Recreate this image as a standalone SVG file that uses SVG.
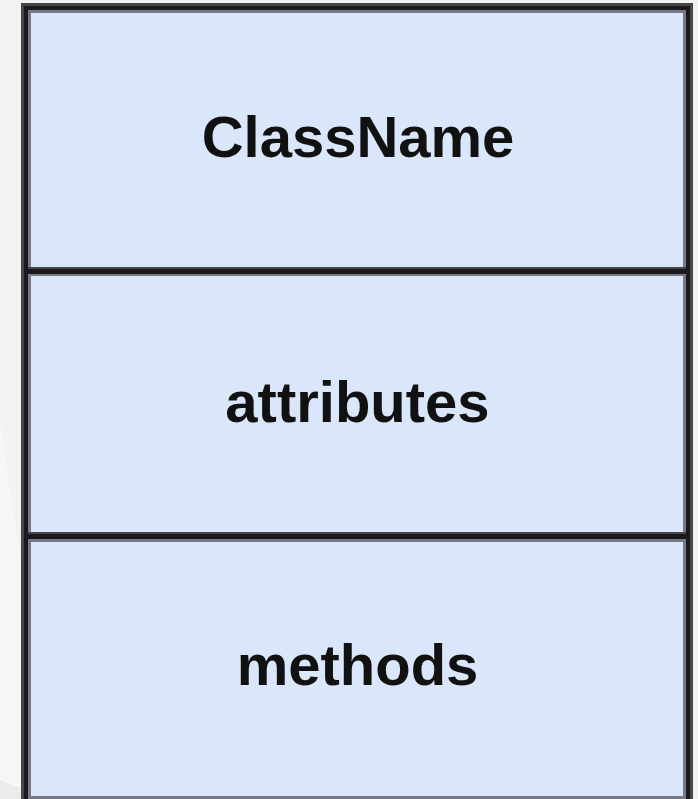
<svg xmlns="http://www.w3.org/2000/svg" width="698" height="799" viewBox="0 0 698 799">
  <style>
    .lbl { font-family: "Liberation Sans", Arial, sans-serif; font-size: 58px; font-weight: bold; fill: #111111; text-anchor: middle; }
    .fill { fill: #dae7fa; }
    .b1 { fill: #46454a; }
    .b2 { fill: #1c181c; }
    .b3 { fill: #767988; }
  </style>
  <rect x="0" y="0" width="698" height="799" fill="#f3f3f3"/>
  <path d="M0 420 Q 14 520 21 560 L21 788 L0 780 Z" fill="#f7f7f7"/>
  <path d="M0 780 L21 788 L21 799 L0 799 Z" fill="#ececec"/>
  <rect x="693" y="0" width="5" height="799" fill="#f0f0f0"/>
  <g id="class-box">
    <rect class="b1" x="21" y="3" width="672" height="800"/>
    <rect class="b2" x="24" y="6" width="666" height="800"/>
    <rect class="b3" x="28" y="10" width="658" height="800"/>
    <g id="section-name">
      <rect class="fill" x="31" y="13" width="652" height="254"/>
      <text class="lbl" x="358" y="157">ClassName</text>
    </g>
    <g id="divider-1">
      <rect class="b1" x="28" y="267" width="658" height="2"/>
      <rect class="b2" x="24" y="269" width="666" height="5"/>
      <rect class="b3" x="31" y="274" width="652" height="2"/>
    </g>
    <g id="section-attributes">
      <rect class="fill" x="31" y="276" width="652" height="256"/>
      <text class="lbl" x="357.5" y="422">attributes</text>
    </g>
    <g id="divider-2">
      <rect class="b1" x="28" y="532" width="658" height="2"/>
      <rect class="b2" x="24" y="534" width="666" height="5"/>
      <rect class="b3" x="31" y="539" width="652" height="3"/>
    </g>
    <g id="section-methods">
      <rect class="fill" x="31" y="542" width="652" height="254"/>
      <text class="lbl" x="357.5" y="685">methods</text>
    </g>
    <rect class="b3" x="31" y="796" width="652" height="3"/>
  </g>
  <g id="connectors"/>
</svg>
